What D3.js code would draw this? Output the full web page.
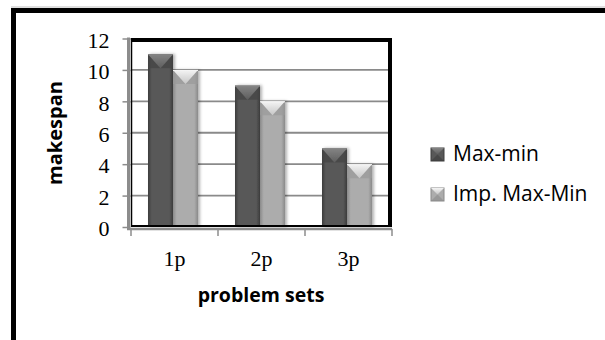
<!DOCTYPE html>
<html>
<head>
<meta charset="utf-8">
<script src="https://cdn.jsdelivr.net/npm/d3@7/dist/d3.min.js"></script>
<style>
  html, body { margin: 0; padding: 0; background: #fff; }
  svg { display: block; }
</style>
</head>
<body>
<svg id="chart" width="605" height="340"></svg>
<script>
// Makespan per problem set for the two heuristics
const categories = ["1p", "2p", "3p"];
const seriesNames = ["Max-min", "Imp. Max-Min"];
const maxMinValues = [11, 9, 5];
const impMaxMinValues = [10, 8, 4];
const yTicks = [0, 2, 4, 6, 8, 10, 12];

const table = categories.map((c, i) => ({
  category: c,
  values: [
    { series: seriesNames[0], value: maxMinValues[i] },
    { series: seriesNames[1], value: impMaxMinValues[i] }
  ]
}));

const svg = d3.select("#chart");
const W = 605, H = 340;

// plot area
const plot = { left: 131, right: 390, top: 38.5, bottom: 227 };

const x0 = d3.scaleBand().domain(categories).range([plot.left, 392]).padding(0);
const x1 = d3.scaleBand().domain(seriesNames).range([17, 67]).padding(0);
const y = d3.scaleLinear().domain([0, 12]).range([plot.bottom, plot.top]);

// palettes: body edge, body centre, bevel top, bevel tip
const palette = {
  "Max-min":      { edge: "#3c3c3c", mid: "#585858", bevTop: "#848484", bevTip: "#5e5e5e", side: "#454545" },
  "Imp. Max-Min": { edge: "#8a8a8a", mid: "#acacac", bevTop: "#f4f4f4", bevTip: "#c6c6c6", side: "#9a9a9a" }
};

const defs = svg.append("defs");
seriesNames.forEach((s, i) => {
  const p = palette[s];
  const gh = defs.append("linearGradient").attr("id", "body" + i)
    .attr("x1", "0").attr("x2", "1").attr("y1", "0").attr("y2", "0");
  gh.append("stop").attr("offset", "0").attr("stop-color", p.edge);
  gh.append("stop").attr("offset", "0.15").attr("stop-color", p.mid);
  gh.append("stop").attr("offset", "0.85").attr("stop-color", p.mid);
  gh.append("stop").attr("offset", "1").attr("stop-color", p.edge);
  const gv = defs.append("linearGradient").attr("id", "bev" + i)
    .attr("x1", "0").attr("x2", "0").attr("y1", "0").attr("y2", "1");
  gv.append("stop").attr("offset", "0").attr("stop-color", p.bevTop);
  gv.append("stop").attr("offset", "1").attr("stop-color", p.bevTip);
});
const shadow = defs.append("filter").attr("id", "shadow")
  .attr("x", "-20%").attr("y", "-10%").attr("width", "150%").attr("height", "120%");
shadow.append("feDropShadow").attr("dx", 2).attr("dy", 0)
  .attr("stdDeviation", 1.5).attr("flood-color", "#000").attr("flood-opacity", 0.3);

// outer frame (runs off the right and bottom edges)
svg.append("line").attr("x1", 11).attr("x2", W).attr("y1", 7).attr("y2", 7)
  .attr("stroke", "#c0c0c0").attr("stroke-width", 1);
svg.append("path")
  .attr("d", `M13.5,${H} L13.5,10.5 L${W},10.5`)
  .attr("fill", "none").attr("stroke", "#000").attr("stroke-width", 5);

// gridlines
svg.append("g").selectAll("line").data(yTicks.filter(t => t > 0 && t < 12)).join("line")
  .attr("x1", plot.left).attr("x2", plot.right)
  .attr("y1", d => y(d)).attr("y2", d => y(d))
  .attr("stroke", "#8a8a8a").attr("stroke-width", 1.8);

// bars
const groups = svg.append("g").selectAll("g").data(table).join("g")
  .attr("transform", d => `translate(${x0(d.category)},0)`);

const bars = groups.selectAll("g.bar").data(d => d.values).join("g")
  .attr("class", "bar")
  .attr("filter", "url(#shadow)");

bars.each(function(d) {
  const g = d3.select(this);
  const i = seriesNames.indexOf(d.series);
  const p = palette[d.series];
  const bx = x1(d.series), bw = x1.bandwidth();
  const by = y(d.value), bh = y(0) - y(d.value);
  const bev = 14;
  g.append("rect").attr("x", bx).attr("y", by).attr("width", bw).attr("height", bh)
    .attr("fill", `url(#body${i})`);
  // side facets of the bevelled top
  g.append("path")
    .attr("d", `M${bx},${by} L${bx + bw / 2},${by + bev} L${bx},${by + bev} Z`)
    .attr("fill", p.side).attr("opacity", 0.7);
  g.append("path")
    .attr("d", `M${bx + bw},${by} L${bx + bw / 2},${by + bev} L${bx + bw},${by + bev} Z`)
    .attr("fill", p.side).attr("opacity", 0.7);
  // top facet
  g.append("path")
    .attr("d", `M${bx},${by} L${bx + bw},${by} L${bx + bw / 2},${by + bev} Z`)
    .attr("fill", `url(#bev${i})`);
  g.append("line").attr("x1", bx).attr("x2", bx + bw).attr("y1", by + 0.5).attr("y2", by + 0.5)
    .attr("stroke", p.bevTop).attr("stroke-width", 1);
});

// axes (grey) sitting just outside the black plot frame
const yAxis = svg.append("g").attr("transform", `translate(128.5,0)`)
  .call(d3.axisLeft(y).tickValues(yTicks).tickSize(6).tickFormat(d3.format("d")));
yAxis.select(".domain").attr("stroke", "#8c8c8c").attr("stroke-width", 3)
  .attr("d", `M0,${plot.top - 1}V${plot.bottom + 2.5}`);
yAxis.selectAll(".tick line").attr("stroke", "#8c8c8c").attr("stroke-width", 1.5).attr("x2", -6).attr("x1", 2);
yAxis.selectAll(".tick text")
  .attr("x", -19).attr("dy", "0.4em")
  .attr("font-family", "Liberation Serif, Times New Roman, serif")
  .attr("font-size", 22).attr("fill", "#000");

const xAxis = svg.append("g").attr("transform", `translate(0,229)`);
xAxis.append("line").attr("x1", 127).attr("x2", 392).attr("y1", 0).attr("y2", 0)
  .attr("stroke", "#8c8c8c").attr("stroke-width", 2.5);
const xEdges = categories.map(c => x0(c)).concat([x0.range()[1]]);
xAxis.selectAll("line.tk").data(xEdges).join("line").attr("class", "tk")
  .attr("x1", d => d).attr("x2", d => d).attr("y1", 0).attr("y2", 7)
  .attr("stroke", "#8c8c8c").attr("stroke-width", 1.5);
xAxis.selectAll("text").data(categories).join("text")
  .attr("x", d => x0(d) + x0.bandwidth() / 2).attr("y", 37)
  .attr("text-anchor", "middle")
  .attr("font-family", "Liberation Serif, Times New Roman, serif")
  .attr("font-size", 22).attr("fill", "#000")
  .text(d => d);

// black plot frame
svg.append("line").attr("x1", 131.5).attr("x2", 131.5).attr("y1", 38).attr("y2", 227)
  .attr("stroke", "#000").attr("stroke-width", 1.5);
svg.append("line").attr("x1", 131).attr("x2", 390).attr("y1", 226).attr("y2", 226)
  .attr("stroke", "#000").attr("stroke-width", 2);
svg.append("line").attr("x1", 131).attr("x2", 392).attr("y1", 40).attr("y2", 40)
  .attr("stroke", "#000").attr("stroke-width", 4);
svg.append("line").attr("x1", 390).attr("x2", 390).attr("y1", 38).attr("y2", 227)
  .attr("stroke", "#000").attr("stroke-width", 4);

// axis titles
svg.append("text").attr("x", 261).attr("y", 302).attr("text-anchor", "middle")
  .attr("font-family", "Open Sans, sans-serif").attr("font-weight", "bold")
  .attr("font-size", 19.5).attr("fill", "#000").text("problem sets");
svg.append("text").attr("transform", "translate(62,133) rotate(-90)").attr("text-anchor", "middle")
  .attr("font-family", "Open Sans, sans-serif").attr("font-weight", "bold")
  .attr("font-size", 20).attr("fill", "#000").text("makespan");

// legend
const legend = svg.append("g").attr("transform", "translate(431,148)");
const items = legend.selectAll("g").data(seriesNames).join("g")
  .attr("transform", (d, i) => `translate(0,${i * 40})`);
items.each(function(s, i) {
  const g = d3.select(this);
  const p = palette[s];
  const sz = 13;
  g.append("rect").attr("width", sz).attr("height", sz).attr("fill", p.mid)
    .attr("stroke", p.edge).attr("stroke-width", 1);
  g.append("path").attr("d", `M0,0 L${sz},0 L${sz / 2},${sz / 2} Z`).attr("fill", `url(#bev${i})`);
  g.append("path").attr("d", `M0,${sz} L${sz},${sz} L${sz / 2},${sz / 2} Z`).attr("fill", p.edge).attr("opacity", 0.6);
  g.append("text").attr("x", 22).attr("y", 12.5)
    .attr("font-family", "Open Sans, sans-serif").attr("font-size", 21)
    .attr("fill", "#000").text(s);
});
</script>
</body>
</html>
